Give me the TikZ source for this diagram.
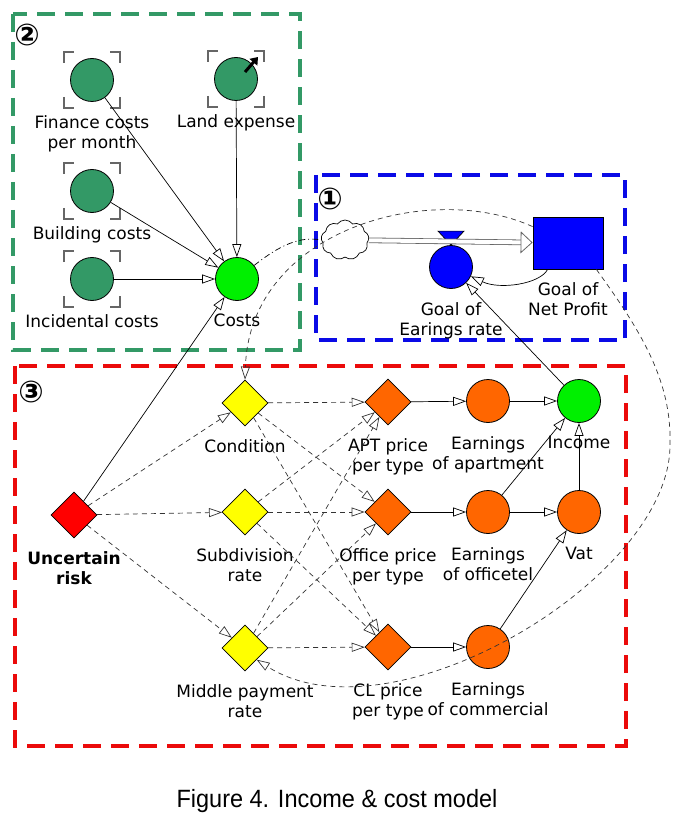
\documentclass[tikz,border=0pt]{standalone}
\usepackage{fontspec}
\setsansfont{DejaVu Sans}
\newfontfamily\capfont[FakeStretch=0.94]{Liberation Sans}
\usetikzlibrary{arrows.meta}
\usetikzlibrary{shapes}

\definecolor{costGreen}{RGB}{51,153,102}
\definecolor{sumGreen}{RGB}{0,240,0}
\definecolor{goalBlue}{RGB}{0,0,255}
\definecolor{boxBlue}{RGB}{10,10,230}
\definecolor{boxRed}{RGB}{235,10,10}
\definecolor{earnOrange}{RGB}{255,102,0}
\definecolor{factorYellow}{RGB}{255,255,0}

\newcommand{\lblsize}{\fontsize{17pt}{20pt}\selectfont}

\begin{document}
\begin{tikzpicture}[x = 1pt, y = -1pt, font=\sffamily\lblsize, label distance = 13pt]
\tikzstyle{lblStyle}=[align = center, inner sep = 0pt]
\tikzstyle{auxStyle}=[shape = circle, minimum size = 43pt, inner sep = 0pt, draw, line width = 0.8pt]
\tikzstyle{costStyle}=[auxStyle, fill = costGreen]
\tikzstyle{sumStyle}=[auxStyle, fill = sumGreen]
\tikzstyle{earnStyle}=[auxStyle, fill = earnOrange]
\tikzstyle{rateStyle}=[auxStyle, fill = goalBlue]
\tikzstyle{levelStyle}=[shape = rectangle, minimum width = 70pt, minimum height = 52pt, draw, fill = goalBlue, line width = 0.8pt]
\tikzstyle{decStyle}=[shape = diamond, minimum size = 46pt, inner sep = 0pt, draw, line width = 0.8pt]
\tikzstyle{riskStyle}=[decStyle, fill = red]
\tikzstyle{factorStyle}=[decStyle, fill = factorYellow]
\tikzstyle{priceStyle}=[decStyle, fill = earnOrange]
\tikzstyle{cloudStyle}=[shape = cloud, cloud puffs = 9, cloud puff arc = 110, aspect = 1.3, minimum width = 48pt, minimum height = 40pt, draw, line width = 0.7pt]
\tikzstyle{linkStyle}=[line width = 0.7pt, -{Triangle[open, length = 13pt, width = 9pt]}]
\tikzstyle{dashLinkStyle}=[linkStyle, dash pattern = on 5pt off 4pt, draw = black!80]
\tikzstyle{dashDotStyle}=[line width = 0.7pt, dash pattern = on 6pt off 3pt on 1pt off 3pt]
\tikzstyle{flowStyle}=[double = white, double distance = 4pt, line width = 0.8pt, draw = black!60, -{Triangle[open, length = 12pt, width = 22pt]}]
\tikzstyle{bracketStyle}=[line width = 1.3pt, draw = black!60]
\tikzstyle{groupStyle}=[line width = 4pt, dash pattern = on 18pt off 10pt]
\tikzstyle{tagStyle}=[inner sep = 0pt, font = \sffamily\bfseries\fontsize{30pt}{30pt}\selectfont]

\useasboundingbox (0,0) rectangle (690,818);

% groups
\draw[groupStyle, draw = costGreen] (13,14) rectangle (300,350);
\draw[groupStyle, draw = boxBlue] (316,175) rectangle (625,340);
\draw[groupStyle, draw = boxRed] (15,366) rectangle (626,746);
\node[tagStyle] (tagTwo) at (27,35) {②};
\node[tagStyle] (tagOne) at (330,199) {①};
\node[tagStyle] (tagThree) at (31,392) {③};

% costs
\node[costStyle, label = {[lblStyle]below:Finance costs\\per month}] (fin) at (92,80) {};
\node[costStyle, label = {[lblStyle]below:Land expense}] (land) at (236,79) {};
\node[costStyle, label = {[lblStyle]below:Building costs}] (bld) at (92,191) {};
\node[costStyle, label = {[lblStyle]below:Incidental costs}] (inc) at (92,279) {};
\node[sumStyle, label = {[lblStyle]below:Costs}] (cost) at (237,279) {};
\foreach \v in {fin, land, bld, inc}{
  \draw[bracketStyle] ([shift={(-28,-17)}]\v.center) -- ++(0,-11) -- ++(10,0);
  \draw[bracketStyle] ([shift={(28,-17)}]\v.center) -- ++(0,-11) -- ++(-10,0);
  \draw[bracketStyle] ([shift={(-28,17)}]\v.center) -- ++(0,11) -- ++(10,0);
  \draw[bracketStyle] ([shift={(28,17)}]\v.center) -- ++(0,11) -- ++(-10,0);
}
\draw[line width = 3pt, -{Triangle[length = 7pt, width = 10pt]}] ([shift={(9,-7)}]land.center) -- ([shift={(22,-22)}]land.center);

% goal
\node[cloudStyle] (cloud) at (345,240) {};
\node[levelStyle, label = {[lblStyle]below:Goal of\\Net Profit}] (np) at (568,243) {};
\node[rateStyle, label distance = 15pt, label = {[lblStyle]below:Goal of\\Earings rate}] (rate) at (451,267) {};
\draw[line width = 0.7pt, fill = goalBlue] (rate.north) -- ++(-13,-14) -- ++(26,0) -- cycle;

% income
\node[riskStyle, label distance = 14pt, label = {[lblStyle, font = \sffamily\lblsize\bfseries]below:Uncertain\\risk}] (risk) at (74,515) {};
\node[factorStyle, label distance = 15pt, label = {[lblStyle]below:Condition}] (cond) at (245,403) {};
\node[factorStyle, label distance = 15pt, label = {[lblStyle]below:Subdivision\\rate}] (sub) at (245,512) {};
\node[factorStyle, label distance = 15pt, label = {[lblStyle]below:Middle payment\\rate}] (mid) at (245,648) {};
\node[priceStyle, label distance = 14pt, label = {[lblStyle]below:APT price\\per type}] (apt) at (388,402) {};
\node[priceStyle, label distance = 14pt, label = {[lblStyle]below:Office price\\per type}] (off) at (388,512) {};
\node[priceStyle, label distance = 14pt, label = {[lblStyle]below:CL price\\per type}] (cl) at (388,647) {};
\node[earnStyle, label distance = 14pt, label = {[lblStyle]below:Earnings\\of apartment}] (eapt) at (488,401) {};
\node[earnStyle, label distance = 14pt, label = {[lblStyle]below:Earnings\\of officetel}] (eoff) at (488,512) {};
\node[earnStyle, label distance = 14pt, label = {[lblStyle]below:Earnings\\of commercial}] (ecom) at (488,647) {};
\node[sumStyle, label distance = 14pt, label = {[lblStyle]below:Income}] (income) at (579,401) {};
\node[earnStyle, label distance = 13pt, label = {[lblStyle]below:Vat}] (vat) at (579,512) {};

% links
\draw[linkStyle] (fin) -- (cost);
\draw[linkStyle] (land) -- (cost);
\draw[linkStyle] (bld) -- (cost);
\draw[linkStyle] (inc) -- (cost);
\draw[linkStyle] (risk) -- (cost);
\draw[dashDotStyle] (cost) .. controls (280,245) and (300,236) .. (cloud.west);
\draw[flowStyle] (cloud) -- (np);
\draw[linkStyle] ([xshift=15pt]np.south west) .. controls (540,284) and (500,290) .. (rate);
\draw[linkStyle] (income) -- (rate);
\foreach \a/\b in {risk/cond, risk/sub, risk/mid, cond/apt, cond/off, cond/cl, sub/apt, sub/off, sub/cl, mid/apt, mid/off, mid/cl}
  \draw[dashLinkStyle] (\a) -- (\b);
\foreach \a/\b in {apt/eapt, off/eoff, cl/ecom, eapt/income, eoff/income, eoff/vat, ecom/vat, vat/income}
  \draw[linkStyle] (\a) -- (\b);
\draw[dashLinkStyle] ([yshift=-10pt]np.north west) .. controls (430,180) and (250,230) .. (cond.north);
\draw[dashLinkStyle] ([xshift=-7pt]np.south east) .. controls (640,330) and (672,380) .. (670,445) .. controls (670,580) and (390,745) .. (mid.south east);

\node[font = \capfont\fontsize{25pt}{28pt}\selectfont, anchor = base] (caption) at (337,807) {Figure 4. Income \& cost model};
\end{tikzpicture}
\end{document}
